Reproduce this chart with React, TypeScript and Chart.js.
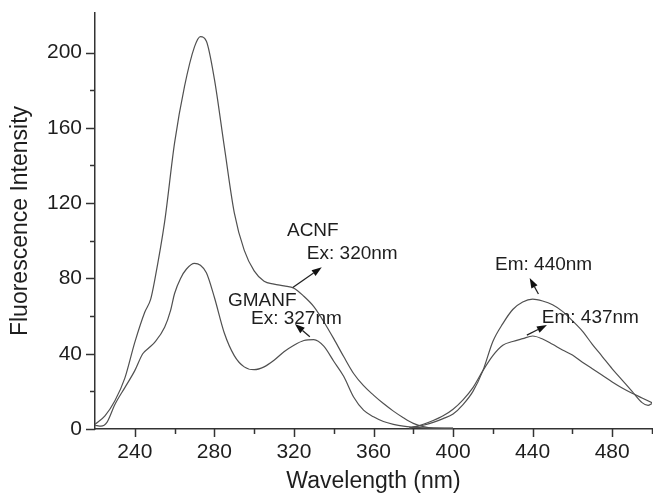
import React, { useEffect, useRef } from 'react';
import { Chart, registerables } from 'chart.js';

Chart.register(...registerables);

// ---------- data ----------
const acnfExWl = [220, 225, 230, 235, 240, 245, 248, 250, 255, 260, 265, 270, 273, 276, 280, 285, 290, 295, 300, 305, 310, 315, 320, 325, 330, 335, 340, 345, 350, 355, 360, 365, 370, 375, 380, 385, 390, 400];
const acnfExVal = [2.5, 7, 15, 27, 46, 62, 69, 79, 110, 152, 182, 203, 208.5, 206, 186, 150, 115, 95, 84, 78.5, 77, 76, 74.8, 70.5, 65, 57, 48, 38.5, 29.5, 23, 18, 13.5, 9.5, 6, 3, 1.3, 0.6, 0.5];

const gmanfExWl = [220, 223, 226, 230, 235, 240, 244, 247, 250, 255, 258, 260, 263, 266, 270, 273, 276, 280, 285, 290, 295, 300, 305, 310, 315, 320, 325, 330, 335, 340, 345, 350, 355, 360, 365, 370, 375, 380, 390, 400];
const gmanfExVal = [2, 1.5, 3.5, 13, 22, 31, 40, 43, 46, 54, 63, 72, 80, 85, 88, 87, 83, 70, 51, 39, 33, 31.5, 33, 36.5, 41, 44.5, 47, 47.5, 44, 36, 28, 17, 10, 6.5, 4, 2.5, 1.5, 1, 0.4, 0.3];

const acnfEmWl = [378, 385, 390, 395, 400, 405, 410, 415, 420, 425, 430, 435, 440, 445, 450, 455, 460, 465, 470, 475, 480, 485, 490, 495, 498, 500];
const acnfEmVal = [0.5, 2, 3.5, 5.5, 8, 13, 20, 31, 46.5, 56, 63.5, 67.5, 69, 68, 66, 62.5, 57.5, 52, 45, 38.5, 32, 26, 20, 14, 12.5, 13.5];

const gmanfEmWl = [378, 385, 390, 395, 400, 405, 410, 415, 420, 425, 430, 435, 440, 445, 450, 455, 460, 465, 470, 475, 480, 485, 490, 495, 500];
const gmanfEmVal = [0.5, 2.5, 4.5, 7, 10.5, 15.5, 22, 31, 39, 44.5, 46.5, 48, 49.4, 47.8, 45, 42, 39.3, 35.5, 32, 28.5, 25, 21.8, 19, 16.5, 14];

const xTickLabels = [240, 280, 320, 360, 400, 440, 480];
const xMinorTicks = [260, 300, 340, 380, 420, 460, 500];
const yTickLabels = [0, 40, 80, 120, 160, 200];
const yMinorTicks = [20, 60, 100, 140, 180];

const xTitle = 'Wavelength (nm)';
const yTitle = 'Fluorescence Intensity';

// annotation labels (data coordinates of left edge / vertical middle)
const noteTexts = ['ACNF', 'Ex: 320nm', 'GMANF', 'Ex: 327nm', 'Em: 440nm', 'Em: 437nm'];
const noteX = [316.5, 326.5, 286.8, 298.4, 421.1, 444.6];
const noteY = [105.2, 93.3, 68.3, 58.4, 87.1, 59.2];

// arrows: tail -> head in data coordinates
const arrowTailX = [319.4, 328, 442.9, 437.1];
const arrowTailY = [75.2, 49, 71.7, 49.9];
const arrowHeadX = [334, 320.5, 438.5, 447.2];
const arrowHeadY = [85.9, 55.8, 80.2, 55.2];

// ---------- styles ----------
const FONT = '"Liberation Sans", Arial, Helvetica, sans-serif';
const LINE_COLOR = '#505050';
const AXIS_COLOR = '#333333';
const TEXT_COLOR = '#1e1e1e';

const toPts = (xs: number[], ys: number[]) => xs.map((x, i) => ({ x, y: ys[i] }));

const decorPlugin = {
  id: 'decor',
  afterDraw(chart: any) {
    const { ctx, chartArea } = chart;
    const x = chart.scales.x;
    const y = chart.scales.y;
    ctx.save();
    ctx.strokeStyle = AXIS_COLOR;
    ctx.lineWidth = 1.5;
    const seg = (x1: number, y1: number, x2: number, y2: number) => {
      ctx.beginPath();
      ctx.moveTo(x1, y1);
      ctx.lineTo(x2, y2);
      ctx.stroke();
    };
    xTickLabels.forEach((v) => {
      const px = Math.round(x.getPixelForValue(v)) + 0.5;
      seg(px, chartArea.bottom, px, chartArea.bottom + 8);
    });
    xMinorTicks.forEach((v) => {
      const px = Math.round(x.getPixelForValue(v)) + 0.5;
      seg(px, chartArea.bottom, px, chartArea.bottom + 5);
    });
    yTickLabels.forEach((v) => {
      const py = Math.round(y.getPixelForValue(v)) + 0.5;
      seg(chartArea.left, py, chartArea.left - 9, py);
    });
    yMinorTicks.forEach((v) => {
      const py = Math.round(y.getPixelForValue(v)) + 0.5;
      seg(chartArea.left, py, chartArea.left - 5, py);
    });

    // annotation texts
    ctx.fillStyle = TEXT_COLOR;
    ctx.font = `19px ${FONT}`;
    ctx.textAlign = 'left';
    ctx.textBaseline = 'middle';
    noteTexts.forEach((t, i) => {
      ctx.fillText(t, x.getPixelForValue(noteX[i]), y.getPixelForValue(noteY[i]));
    });

    // arrows
    ctx.strokeStyle = '#222';
    ctx.fillStyle = '#111';
    ctx.lineWidth = 1.3;
    arrowTailX.forEach((_, i) => {
      const x1 = x.getPixelForValue(arrowTailX[i]);
      const y1 = y.getPixelForValue(arrowTailY[i]);
      const x2 = x.getPixelForValue(arrowHeadX[i]);
      const y2 = y.getPixelForValue(arrowHeadY[i]);
      const ang = Math.atan2(y2 - y1, x2 - x1);
      const len = 10;
      const wid = 3.5;
      const bx = x2 - len * Math.cos(ang);
      const by = y2 - len * Math.sin(ang);
      seg(x1, y1, bx, by);
      ctx.beginPath();
      ctx.moveTo(x2, y2);
      ctx.lineTo(bx + wid * Math.sin(ang), by - wid * Math.cos(ang));
      ctx.lineTo(bx - wid * Math.sin(ang), by + wid * Math.cos(ang));
      ctx.closePath();
      ctx.fill();
    });
    ctx.restore();
  },
};

export default function App() {
  const ref = useRef<HTMLCanvasElement>(null);

  useEffect(() => {
    document.body.style.margin = '0';
    const lineDs = (label: string, xs: number[], ys: number[]) => ({
      label,
      data: toPts(xs, ys),
      borderColor: LINE_COLOR,
      borderWidth: 1.2,
      pointRadius: 0,
      fill: false,
      cubicInterpolationMode: 'monotone' as const,
    });
    const chart = new Chart(ref.current!, {
      type: 'line',
      data: {
        datasets: [
          lineDs('ACNF Ex', acnfExWl, acnfExVal),
          lineDs('GMANF Ex', gmanfExWl, gmanfExVal),
          lineDs('ACNF Em', acnfEmWl, acnfEmVal),
          lineDs('GMANF Em', gmanfEmWl, gmanfEmVal),
        ],
      },
      options: {
        responsive: false,
        animation: false,
        devicePixelRatio: 1,
        layout: { padding: { top: 13, right: 1, left: 0, bottom: 0 } },
        plugins: { legend: { display: false }, tooltip: { enabled: false } },
        scales: {
          x: {
            type: 'linear',
            min: 220,
            max: 500,
            grid: { display: false, drawTicks: false },
            border: { display: true, color: AXIS_COLOR, width: 1.5 },
            afterBuildTicks: (s: any) => {
              s.ticks = xTickLabels.map((v) => ({ value: v }));
            },
            afterFit: (s: any) => {
              s.height = 66;
              s.paddingLeft = 0;
              s.paddingRight = 0;
            },
            ticks: {
              autoSkip: false,
              maxRotation: 0,
              padding: 11,
              color: TEXT_COLOR,
              font: { family: FONT, size: 21 },
            },
            title: {
              display: true,
              text: xTitle,
              color: TEXT_COLOR,
              font: { family: FONT, size: 23 },
              padding: { top: 0, bottom: 0 },
            },
          },
          y: {
            type: 'linear',
            min: 0,
            max: 221,
            grid: { display: false, drawTicks: false },
            border: { display: true, color: AXIS_COLOR, width: 1.5 },
            afterBuildTicks: (s: any) => {
              s.ticks = yTickLabels.map((v) => ({ value: v }));
            },
            afterFit: (s: any) => {
              s.width = 95;
              s.paddingTop = 0;
              s.paddingBottom = 0;
            },
            ticks: {
              autoSkip: false,
              padding: 13,
              color: TEXT_COLOR,
              font: { family: FONT, size: 21 },
            },
            title: {
              display: true,
              text: yTitle,
              color: TEXT_COLOR,
              font: { family: FONT, size: 23 },
              padding: { top: 7, bottom: 0 },
            },
          },
        },
      },
      plugins: [decorPlugin],
    });
    return () => chart.destroy();
  }, []);

  return (
    <div style={{ width: 653, height: 495, background: '#fff' }}>
      <canvas ref={ref} width={653} height={495} style={{ display: 'block', width: 653, height: 495 }} />
    </div>
  );
}
